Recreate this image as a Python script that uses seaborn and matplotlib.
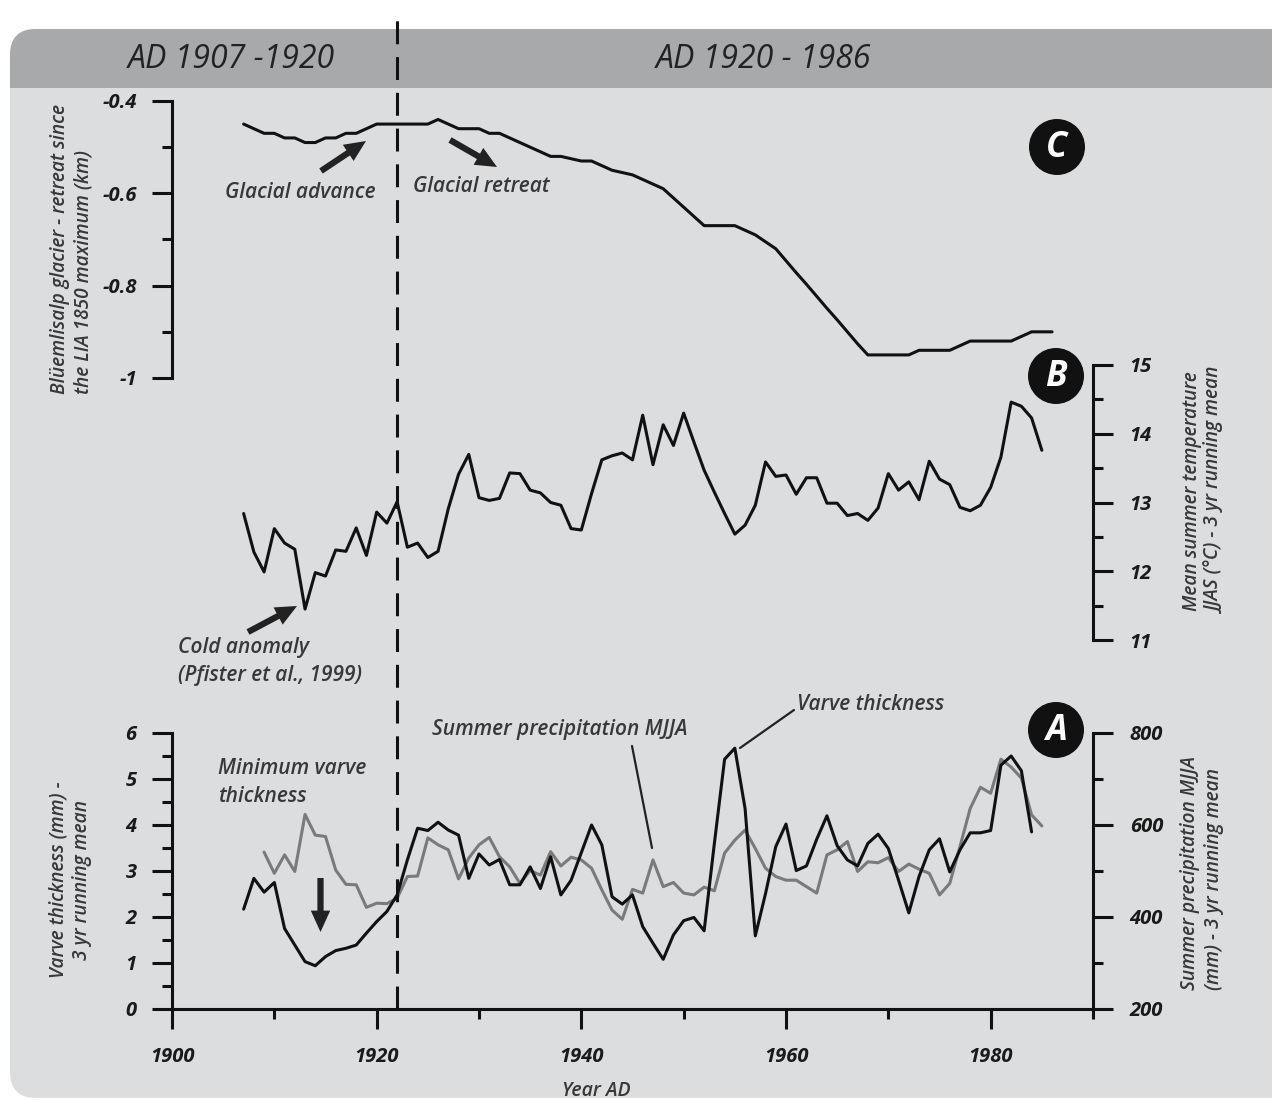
import numpy as np
import pandas as pd
import matplotlib
matplotlib.use("Agg")
import matplotlib.pyplot as plt
import seaborn as sns
from matplotlib.patches import FancyBboxPatch, Rectangle, Circle

# ---------------------------------------------------------------- data
glacier_years = list(range(1907, 1987))
glacier_km = [
    -0.45, -0.46, -0.47, -0.47, -0.48, -0.48, -0.49, -0.49, -0.48, -0.48,
    -0.47, -0.47, -0.46, -0.45, -0.45, -0.45, -0.45, -0.45, -0.45, -0.44,
    -0.45, -0.46, -0.46, -0.46, -0.47, -0.47, -0.48, -0.49, -0.50, -0.51,
    -0.52, -0.52, -0.525, -0.53, -0.53, -0.54, -0.55, -0.555, -0.56, -0.57,
    -0.58, -0.59, -0.61, -0.63, -0.65, -0.67, -0.67, -0.67, -0.67, -0.68,
    -0.69, -0.705, -0.72, -0.746, -0.772, -0.797, -0.823, -0.849, -0.874, -0.90,
    -0.926, -0.95, -0.95, -0.95, -0.95, -0.95, -0.94, -0.94, -0.94, -0.94,
    -0.93, -0.92, -0.92, -0.92, -0.92, -0.92, -0.91, -0.90, -0.90, -0.90,
]

temp_years = list(range(1907, 1986))
temp_jjas = [
    12.84, 12.28, 11.99, 12.62, 12.41, 12.32, 11.45, 11.98, 11.93, 12.31,
    12.29, 12.63, 12.23, 12.86, 12.70, 13.01, 12.35, 12.41, 12.20, 12.29,
    12.91, 13.41, 13.70, 13.07, 13.03, 13.06, 13.43, 13.42, 13.18, 13.14,
    13.00, 12.96, 12.62, 12.60, 13.13, 13.62, 13.68, 13.72, 13.62, 14.27,
    13.55, 14.13, 13.83, 14.30, 13.88, 13.47, 13.15, 12.84, 12.54, 12.67,
    12.96, 13.59, 13.38, 13.40, 13.12, 13.36, 13.36, 12.99, 12.99, 12.81,
    12.84, 12.74, 12.92, 13.42, 13.18, 13.30, 13.04, 13.60, 13.34, 13.26,
    12.93, 12.88, 12.96, 13.22, 13.66, 14.46, 14.40, 14.23, 13.76,
]

varve_years = list(range(1907, 1985))
varve_mm = [
    2.17, 2.84, 2.54, 2.75, 1.75, 1.39, 1.03, 0.94, 1.14, 1.27,
    1.32, 1.39, 1.65, 1.90, 2.12, 2.48, 3.24, 3.93, 3.88, 4.06,
    3.89, 3.78, 2.84, 3.37, 3.13, 3.25, 2.70, 2.70, 3.09, 2.62,
    3.31, 2.48, 2.80, 3.40, 4.00, 3.57, 2.44, 2.28, 2.48, 1.79,
    1.43, 1.08, 1.61, 1.92, 1.99, 1.70, 3.60, 5.43, 5.67, 4.36,
    1.59, 2.51, 3.53, 4.02, 3.01, 3.11, 3.69, 4.20, 3.55, 3.24,
    3.11, 3.60, 3.80, 3.49, 2.80, 2.09, 2.88, 3.46, 3.70, 2.98,
    3.46, 3.83, 3.83, 3.88, 5.30, 5.50, 5.18, 3.85,
]

precip_years = list(range(1909, 1986))
precip_mjja = [
    541, 495, 535, 499, 623, 578, 575, 502, 471, 470,
    421, 430, 429, 441, 488, 489, 572, 557, 546, 483,
    528, 557, 573, 531, 509, 473, 501, 491, 542, 511,
    530, 524, 506, 459, 415, 395, 460, 452, 524, 466,
    475, 452, 448, 465, 457, 539, 567, 589, 549, 506,
    488, 480, 480, 466, 452, 535, 546, 564, 499, 520,
    518, 529, 499, 515, 504, 495, 448, 473, 553, 636,
    682, 669, 743, 726, 702, 622, 598,
]

boundary_year = 1922
x_major = [1900, 1920, 1940, 1960, 1980]
x_minor = [1910, 1930, 1950, 1970, 1990]

glacier = pd.DataFrame({"year": glacier_years, "km": glacier_km})
temp = pd.DataFrame({"year": temp_years, "t": temp_jjas})
varve = pd.DataFrame({"year": varve_years, "mm": varve_mm})
precip = pd.DataFrame({"year": precip_years, "p": precip_mjja})

# ---------------------------------------------------------------- style
sns.set_style("ticks")
plt.rcParams["font.family"] = ["Open Sans", "DejaVu Sans"]
plt.rcParams["font.style"] = "italic"
plt.rcParams["axes.unicode_minus"] = False

W, H = 1272, 1101
PANEL = "#dcdddf"
HEADER = "#a8a9ab"
INK = "#111111"
GREY_LINE = "#7a7a7a"
TXT = "#383838"
LW = 2.2

fig = plt.figure(figsize=(W / 100, H / 100), dpi=100)
fig.patch.set_facecolor("white")


def box(l, t, r, b):
    return [l / W, 1 - b / H, (r - l) / W, (b - t) / H]


X0, X1 = 172, 1093

# background panel with header band
bg = fig.add_axes([0, 0, 1, 1], zorder=0)
bg.set_xlim(0, W)
bg.set_ylim(H, 0)
bg.axis("off")
bg.add_patch(FancyBboxPatch((10, 29), 1340, 1069, boxstyle="round,pad=0,rounding_size=26",
                            fc=PANEL, ec="none"))
bg.add_patch(FancyBboxPatch((10, 29), 1340, 59, boxstyle="round,pad=0,rounding_size=26",
                            fc=HEADER, ec="none"))
bg.add_patch(Rectangle((10, 60), 1340, 28, fc=HEADER, ec="none"))


def style_axis(ax):
    ax.set_facecolor("none")
    for s in ax.spines.values():
        s.set_linewidth(LW)
        s.set_color(INK)
    ax.tick_params(which="major", length=14.4, width=LW, color=INK, labelsize=14.5,
                   labelcolor="#1a1a1a", direction="out")
    ax.tick_params(which="minor", length=7.2, width=LW, color=INK, direction="out")
    ax.set_xlabel("")
    ax.set_ylabel("")


# ---- C: glacier front position
axC = fig.add_axes(box(X0, 101, X1, 378), zorder=2)
sns.lineplot(data=glacier, x="year", y="km", ax=axC, color=INK, lw=LW)
axC.set_xlim(1900, 1990)
axC.set_ylim(-1, -0.4)
style_axis(axC)
for side in ("top", "right", "bottom"):
    axC.spines[side].set_visible(False)
axC.set_xticks([])
axC.set_yticks([-1, -0.8, -0.6, -0.4])
axC.set_yticklabels(["-1", "-0.8", "-0.6", "-0.4"])
axC.set_yticks([-0.9, -0.7, -0.5], minor=True)
axC.tick_params(axis="y", which="major", pad=11)

# ---- B: summer temperature
axB = fig.add_axes(box(X0, 365, X1, 640), zorder=2)
sns.lineplot(data=temp, x="year", y="t", ax=axB, color=INK, lw=LW)
axB.set_xlim(1900, 1990)
axB.set_ylim(11, 15)
style_axis(axB)
for side in ("top", "left", "bottom"):
    axB.spines[side].set_visible(False)
axB.set_xticks([])
axB.yaxis.tick_right()
axB.set_yticks([11, 12, 13, 14, 15])
axB.set_yticks([11.5, 12.5, 13.5, 14.5], minor=True)
axB.tick_params(axis="y", which="major", pad=12)

# ---- A: varve thickness and precipitation
axA = fig.add_axes(box(X0, 733, X1, 1009), zorder=3)
axP = axA.twinx()
axP.set_zorder(2)
axA.patch.set_visible(False)
sns.lineplot(data=precip, x="year", y="p", ax=axP, color=GREY_LINE, lw=LW)
sns.lineplot(data=varve, x="year", y="mm", ax=axA, color=INK, lw=LW)
axA.set_xlim(1900, 1990)
axA.set_ylim(0, 6)
axP.set_ylim(200, 800)
style_axis(axA)
style_axis(axP)
axA.spines["top"].set_visible(False)
axA.spines["right"].set_visible(False)
for side in ("top", "left", "bottom"):
    axP.spines[side].set_visible(False)
axA.set_xticks(x_major)
axA.set_xticks(x_minor, minor=True)
axA.set_yticks(range(0, 7))
axA.set_yticks(np.arange(0.5, 6, 1.0), minor=True)
axA.tick_params(axis="x", which="major", length=14.4, pad=13)
axA.tick_params(axis="y", which="major", pad=11)
axP.set_yticks([200, 400, 600, 800])
axP.set_yticks([300, 500, 700], minor=True)
axP.tick_params(axis="y", which="major", pad=12)

for ax in (axC, axB, axA, axP):
    for lbl in ax.get_xticklabels() + ax.get_yticklabels():
        lbl.set_fontweight("bold")
        lbl.set_fontstyle("italic")

# ---- vertical boundary line
axL = fig.add_axes(box(X0, 13, X1, 1009), zorder=4)
axL.set_xlim(1900, 1990)
axL.set_ylim(1, 0)
axL.axis("off")
axL.axvline(boundary_year, color=INK, lw=LW, linestyle=(0, (7.5, 4.2)))

# ---- text, badges, annotations (pixel space)
ov = fig.add_axes([0, 0, 1, 1], zorder=6)
ov.set_xlim(0, W)
ov.set_ylim(H, 0)
ov.axis("off")

ov.text(231, 60, "AD 1907 -1920", ha="center", va="center", fontsize=23, color="#222222")
ov.text(764, 60, "AD 1920 - 1986", ha="center", va="center", fontsize=23, color="#222222")

lab_kw = dict(rotation=90, fontsize=13.8, color=TXT, fontweight="semibold", linespacing=1.22)
ov.text(72, 394, "Blüemlisalp glacier - retreat since\nthe LIA 1850 maximum (km)",
        ha="center", va="bottom", multialignment="left", **lab_kw)
ov.text(1204, 491, "Mean summer temperature\nJJAS (°C) - 3 yr running mean",
        ha="center", va="center", multialignment="center", **lab_kw)
ov.text(70, 880, "Varve thickness (mm) -\n3 yr running mean",
        ha="center", va="center", multialignment="center", **lab_kw)
ov.text(1202, 990, "Summer precipitation MJJA\n(mm) - 3 yr running mean",
        ha="center", va="bottom", multialignment="left", **lab_kw)
ov.text(596, 1091, "Year AD", ha="center", va="center", fontsize=14, color=TXT,
        fontweight="semibold")

for letter, (cx, cy) in {"C": (1057, 147), "B": (1056, 376), "A": (1056, 730)}.items():
    ov.add_patch(Circle((cx, cy), 28, fc=INK, ec="none"))
    ov.text(cx, cy + 1, letter, ha="center", va="center", color="white", fontsize=25,
            fontweight="bold")

ann_kw = dict(fontsize=15, color=TXT, fontweight="semibold")
ov.text(300, 192, "Glacial advance", ha="center", va="center", **ann_kw)
ov.text(481, 186, "Glacial retreat", ha="center", va="center", **ann_kw)
ov.text(178, 648, "Cold anomaly", ha="left", va="center", **ann_kw)
ov.text(178, 675, "(Pfister et al., 1999)", ha="left", va="center", **ann_kw)
ov.text(218, 768, "Minimum varve", ha="left", va="center", **ann_kw)
ov.text(218, 796, "thickness", ha="left", va="center", **ann_kw)
ov.text(432, 730, "Summer precipitation MJJA", ha="left", va="center", **ann_kw)
ov.text(797, 705, "Varve thickness", ha="left", va="center", **ann_kw)

arrow = dict(arrowstyle="simple,head_length=1.1,head_width=1.0,tail_width=0.32",
             fc="#222222", ec="none", mutation_scale=14, shrinkA=0, shrinkB=0)
for tail, head in [((321, 171), (366, 141)), ((450, 140), (497, 167)),
                   ((248, 632), (297, 606)), ((320.5, 878), (320.5, 932))]:
    ov.annotate("", xy=head, xytext=tail, arrowprops=arrow)

leader = dict(arrowstyle="-", color="#222222", lw=1.6, shrinkA=0, shrinkB=0)
ov.annotate("", xy=(652, 848), xytext=(632, 746), arrowprops=leader)
ov.annotate("", xy=(740, 748), xytext=(794, 710), arrowprops=leader)

fig.savefig("out.png", dpi=100, facecolor="white")
